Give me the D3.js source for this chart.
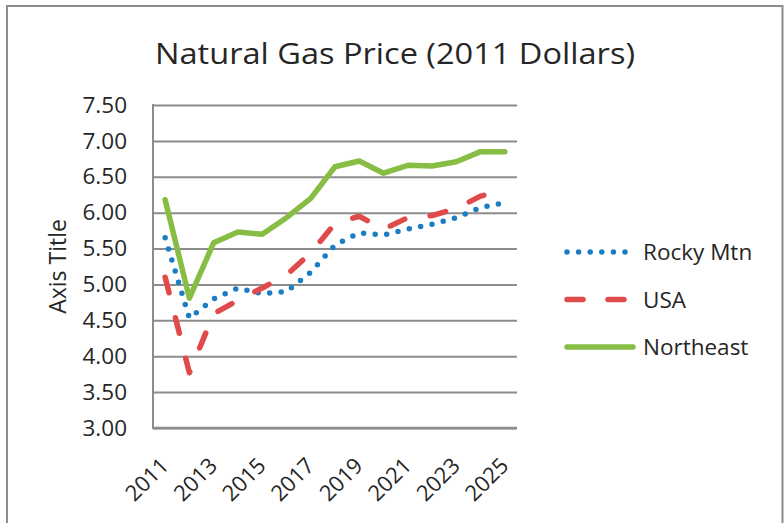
<!DOCTYPE html>
<html>
<head>
<meta charset="utf-8">
<script src="https://cdn.jsdelivr.net/npm/d3@7"></script>
<style>
  body { margin: 0; background: #fff; }
  svg text { font-family: "Open Sans", sans-serif; fill: #262626; }
</style>
</head>
<body>
<svg id="chart" width="784" height="523"></svg>
<script>
// Years on the category axis
const years = [2011, 2012, 2013, 2014, 2015, 2016, 2017, 2018, 2019, 2020, 2021, 2022, 2023, 2024, 2025]
const yearLabels = [2011, 2013, 2015, 2017, 2019, 2021, 2023, 2025]
const yTicks = [3.0, 3.5, 4.0, 4.5, 5.0, 5.5, 6.0, 6.5, 7.0, 7.5]

// Series values
const rockyMtn = [5.65, 4.53, 4.80, 4.95, 4.87, 4.90, 5.17, 5.55, 5.72, 5.69, 5.77, 5.84, 5.93, 6.07, 6.14]
const usa = [5.10, 3.77, 4.59, 4.78, 4.95, 5.13, 5.44, 5.85, 5.95, 5.77, 5.93, 5.96, 6.06, 6.23, 6.32]
const northeast = [6.18, 4.81, 5.58, 5.73, 5.70, 5.93, 6.20, 6.64, 6.72, 6.55, 6.66, 6.65, 6.71, 6.85, 6.85]

const series = [
    { name: "Rocky Mtn", values: rockyMtn, color: "#1b7ec5", width: 5.5, dash: "0,11.6" },
    { name: "USA", values: usa, color: "#e04a4a", width: 5.5, dash: "16,25" },
    { name: "Northeast", values: northeast, color: "#88bd45", width: 5.5, dash: null },
]

const svg = d3.select("#chart")
const plot = { left: 153, right: 517, top: 105, bottom: 428 }

// chart border
svg.append("rect")
    .attr("x", 7).attr("y", 6).attr("width", 775.5).attr("height", 530)
    .attr("fill", "none").attr("stroke", "#8c8c8c").attr("stroke-width", 2)

svg.append("text")
    .attr("x", 395).attr("y", 64)
    .attr("text-anchor", "middle")
    .attr("font-size", 30)
    .attr("textLength", 480).attr("lengthAdjust", "spacingAndGlyphs")
    .text("Natural Gas Price (2011 Dollars)")

const x = d3.scalePoint().domain(years).range([plot.left, plot.right]).padding(0.5)
const y = d3.scaleLinear().domain([3, 7.5]).range([plot.bottom, plot.top])

// gridlines + y labels
const yAxis = svg.append("g")
    .attr("transform", `translate(${plot.left},0)`)
    .call(d3.axisLeft(y).tickValues(yTicks).tickFormat(d3.format(".2f"))
        .tickSize(-(plot.right - plot.left)).tickPadding(26))
yAxis.select(".domain").remove()
yAxis.selectAll(".tick line").attr("stroke", "#8c8c8c").attr("stroke-width", 2)
yAxis.selectAll(".tick text").attr("font-size", 22.5).attr("fill", "#262626")
    .attr("font-family", "Open Sans, sans-serif")

// axis lines
svg.append("line")
    .attr("x1", plot.left).attr("x2", plot.left).attr("y1", plot.top - 1).attr("y2", plot.bottom + 1)
    .attr("stroke", "#8c8c8c").attr("stroke-width", 2)
svg.append("line")
    .attr("x1", plot.left).attr("x2", plot.right).attr("y1", plot.bottom).attr("y2", plot.bottom)
    .attr("stroke", "#8c8c8c").attr("stroke-width", 2.5)

// x labels, rotated
svg.append("g").selectAll("text")
    .data(yearLabels)
    .join("text")
    .attr("transform", d => `translate(${x(d) + 5},${plot.bottom + 39}) rotate(-45)`)
    .attr("text-anchor", "end")
    .attr("font-size", 22)
    .text(d => d)

svg.append("text")
    .attr("transform", `translate(66,${(plot.top + plot.bottom) / 2}) rotate(-90)`)
    .attr("text-anchor", "middle")
    .attr("font-size", 23)
    .text("Axis Title")

const line = d3.line()
    .x((d, i) => x(years[i]))
    .y(d => y(d))

const paths = svg.append("g").selectAll("path")
    .data(series)
    .join("path")
    .attr("d", d => line(d.values))
    .attr("fill", "none")
    .attr("stroke", d => d.color)
    .attr("stroke-width", d => d.width)
    .attr("stroke-linecap", "round")
    .attr("stroke-linejoin", "round")
    .attr("stroke-dasharray", d => d.dash)

// stretch the dash period a little so the USA line ends inside a gap, like the original
paths.filter(d => d.name == "USA").each(function () {
    const len = this.getTotalLength()
    const n = Math.round(len / 41)
    const period = (len + 4) / n
    d3.select(this).attr("stroke-dasharray", `16,${period - 16}`)
})

// legend
const legend = svg.append("g").selectAll("g")
    .data(series)
    .join("g")
    .attr("transform", (d, i) => `translate(567,${252 + i * 47.5})`)
legend.append("line")
    .attr("x1", 0).attr("x2", d => d.dash ? 58.5 : 66)
    .attr("stroke", d => d.color)
    .attr("stroke-width", d => d.width)
    .attr("stroke-linecap", "round")
    .attr("stroke-dasharray", d => d.dash)
legend.append("text")
    .attr("x", 76).attr("y", 8)
    .attr("font-size", 22.5)
    .text(d => d.name)
</script>
</body>
</html>
